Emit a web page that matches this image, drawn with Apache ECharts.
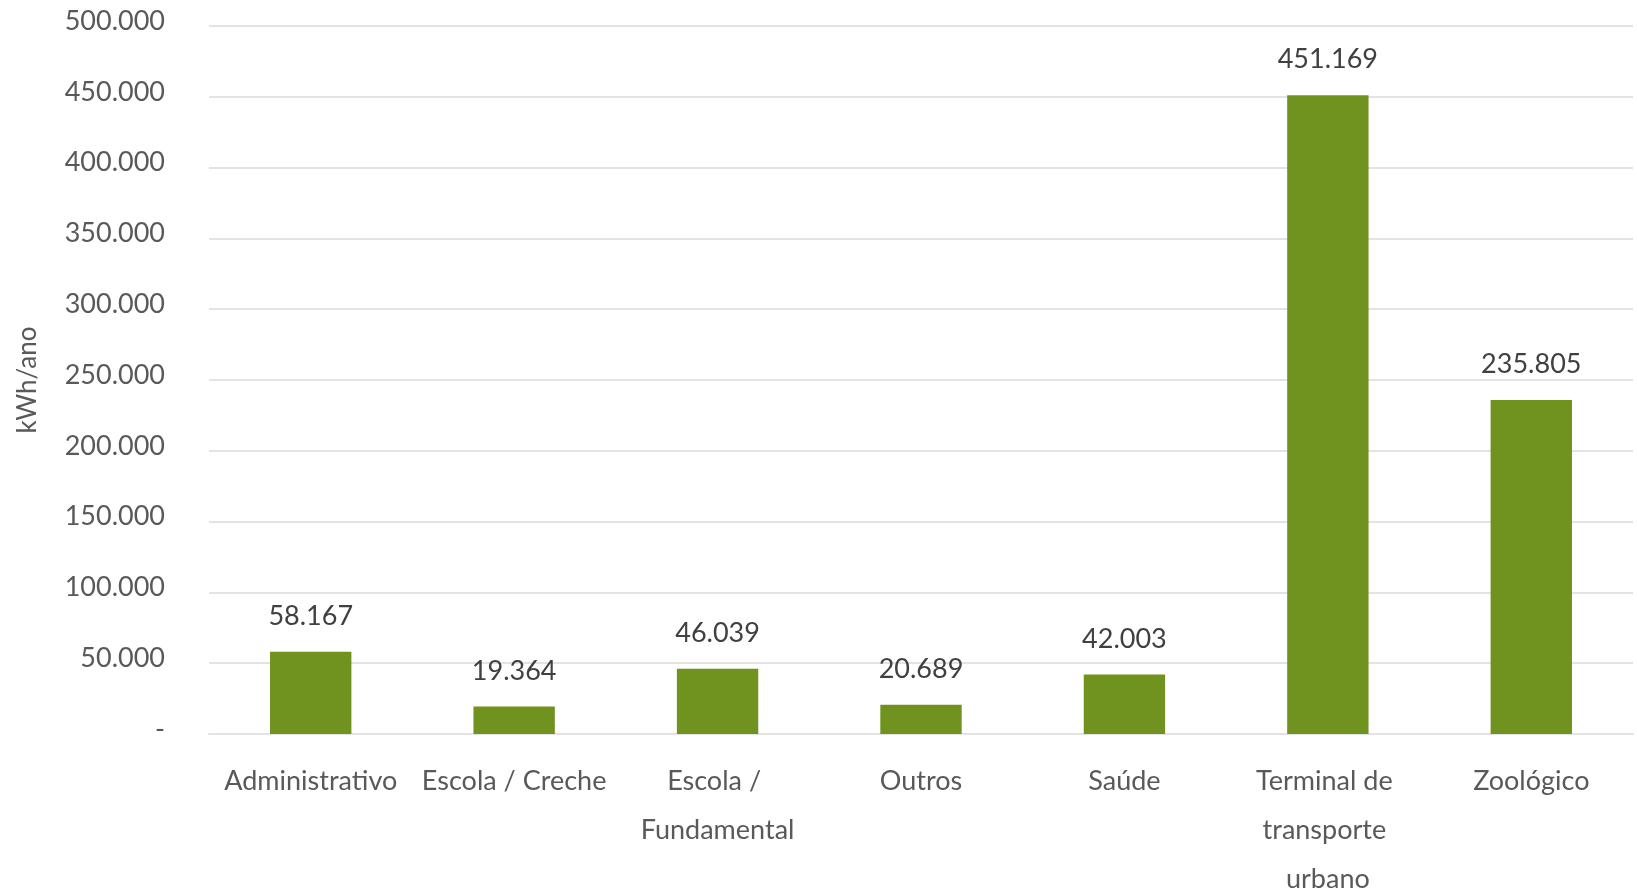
<!DOCTYPE html>
<html>
<head>
<meta charset="utf-8">
<script src="https://cdn.jsdelivr.net/npm/echarts@6/dist/echarts.min.js"></script>
<style>
html,body{margin:0;padding:0;background:#fff;}
#chart{width:1637px;height:895px;}
</style>
</head>
<body>
<div id="chart"></div>
<script>
const categories = ['Administrativo', 'Escola / Creche', 'Escola / Fundamental', 'Outros', 'Saúde', 'Terminal de transporte urbano', 'Zoológico'];
const values = [58167, 19364, 46039, 20689, 42003, 451169, 235805];
const yAxisName = 'kWh/ano';

function fmt(v) {
  if (v === 0) return '-';
  return String(Math.round(v)).replace(/\B(?=(\d{3})+(?!\d))/g, '.');
}

const chart = echarts.init(document.getElementById('chart'));
chart.setOption({
  animation: false,
  textStyle: { fontFamily: 'Lato' },
  grid: { left: 209, right: 4, top: 26, bottom: 161, containLabel: false, outerBoundsMode: 'none' },
  xAxis: {
    type: 'category',
    data: categories,
    axisLine: { show: true, lineStyle: { color: '#e3e3e3', width: 2 } },
    axisTick: { show: false },
    axisLabel: {
      color: '#595959', fontSize: 27, fontFamily: 'Lato',
      margin: 23, lineHeight: 49, width: 195, overflow: 'break', interval: 0
    }
  },
  yAxis: {
    type: 'value',
    min: 0, max: 500000, interval: 50000,
    name: yAxisName,
    nameLocation: 'middle',
    nameGap: 168,
    nameTextStyle: { color: '#595959', fontSize: 26, fontFamily: 'Lato' },
    axisLine: { show: false },
    axisTick: { show: false },
    splitLine: { lineStyle: { color: '#e3e3e3', width: 2 } },
    axisLabel: { color: '#595959', fontSize: 27, fontFamily: 'Lato', margin: 44, verticalAlign: 'bottom', lineHeight: 10, formatter: fmt }
  },
  series: [{
    type: 'bar',
    data: values,
    barWidth: '40%',
    itemStyle: { color: '#70921F' },
    label: {
      show: true, position: 'top', distance: 22,
      color: '#404040', fontSize: 27, fontFamily: 'Lato',
      formatter: p => fmt(p.value)
    }
  }]
});
</script>
</body>
</html>
